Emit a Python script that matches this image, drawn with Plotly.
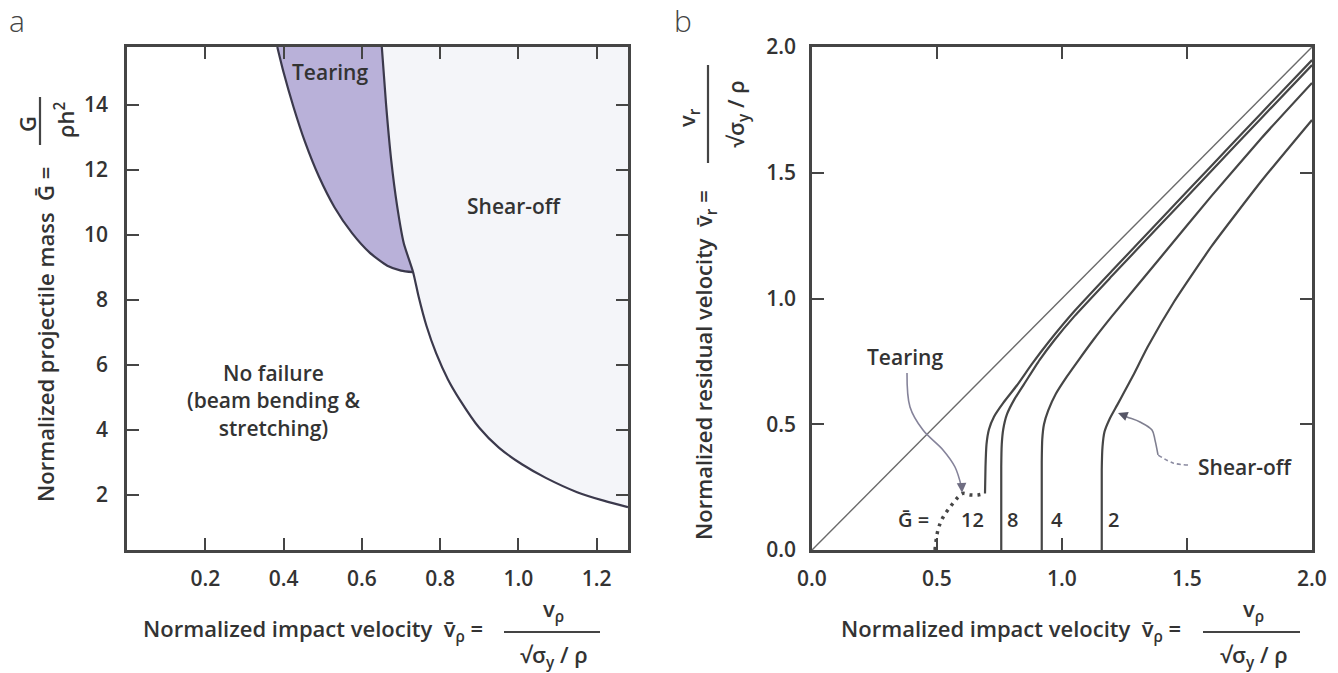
import plotly.graph_objects as go

W, H = 1338, 673

# ---------------- Panel a data (normalized impact velocity vs projectile mass) -------------
A_XMAX = 1.28
A_YMIN, A_YMAX = 0.3, 15.78
a_xticks = [0.2, 0.4, 0.6, 0.8, 1.0, 1.2]
a_xticklabels = ["0.2", "0.4", "0.6", "0.8", "1.0", "1.2"]
a_yticks = [2, 4, 6, 8, 10, 12, 14]

tear_left_v = [0.384, 0.400, 0.425, 0.455, 0.490, 0.530, 0.575, 0.620, 0.665, 0.700, 0.731]
tear_left_G = [15.78, 15.0, 13.95, 12.85, 11.8, 10.85, 10.05, 9.45, 9.05, 8.9, 8.85]

shear_v = [0.651, 0.662, 0.675, 0.690, 0.707, 0.731, 0.745, 0.765, 0.790, 0.820, 0.850,
           0.900, 0.950, 1.010, 1.070, 1.150, 1.220, 1.280]
shear_G = [15.78, 14.0, 12.3, 10.9, 9.75, 8.85, 8.1, 7.2, 6.35, 5.55, 4.93,
           4.06, 3.45, 2.93, 2.52, 2.08, 1.81, 1.62]
JUNCTION = 5  # index where the tearing boundary meets the shear-off boundary

# ---------------- Panel b data (impact velocity vs residual velocity) -------------
b_ticks = [0.0, 0.5, 1.0, 1.5, 2.0]
b_ticklabels = ["0.0", "0.5", "1.0", "1.5", "2.0"]

diag_v = [0.0, 2.0]
diag_r = [0.0, 2.0]

g12_tear_v = [0.492, 0.504, 0.524, 0.552, 0.584, 0.604, 0.632, 0.664, 0.692]
g12_tear_r = [0.0, 0.08, 0.13, 0.17, 0.21, 0.225, 0.219, 0.219, 0.225]

g12_v = [0.692, 0.694, 0.698, 0.708, 0.728, 0.765, 0.820, 0.880, 0.945, 1.05, 1.20, 1.40, 1.60, 1.80, 2.00]
g12_r = [0.225, 0.33, 0.42, 0.48, 0.53, 0.585, 0.655, 0.74, 0.825, 0.95, 1.11, 1.32, 1.53, 1.74, 1.948]

g8_v = [0.757, 0.757, 0.759, 0.765, 0.780, 0.810, 0.855, 0.910, 0.970, 1.05, 1.20, 1.40, 1.60, 1.80, 2.00]
g8_r = [0.0, 0.33, 0.42, 0.48, 0.54, 0.60, 0.67, 0.755, 0.835, 0.93, 1.09, 1.30, 1.51, 1.72, 1.928]

g4_v = [0.919, 0.919, 0.921, 0.928, 0.945, 0.975, 1.020, 1.070, 1.125, 1.20, 1.40, 1.60, 1.80, 2.00]
g4_r = [0.0, 0.35, 0.44, 0.50, 0.555, 0.62, 0.69, 0.76, 0.835, 0.93, 1.17, 1.41, 1.64, 1.857]

g2_v = [1.159, 1.159, 1.162, 1.170, 1.190, 1.220, 1.250, 1.285, 1.344, 1.45, 1.60, 1.80, 2.00]
g2_r = [0.0, 0.32, 0.41, 0.47, 0.52, 0.575, 0.63, 0.695, 0.81, 0.99, 1.21, 1.47, 1.71]

g_labels = ["12", "8", "4", "2"]
g_label_v = [0.64, 0.80, 0.98, 1.205]
g_label_r = 0.12

# annotation leader paths
tear_arrow_v = [0.380, 0.392, 0.444, 0.524, 0.572, 0.598]
tear_arrow_r = [0.704, 0.569, 0.477, 0.398, 0.330, 0.25]
shear_arrow_v = [1.504, 1.444, 1.384, 1.372, 1.360, 1.312, 1.260, 1.235]
shear_arrow_r = [0.338, 0.346, 0.378, 0.437, 0.477, 0.509, 0.529, 0.540]

# ---------------- styles -------------
FONT = "Open Sans"
TXT = "#333333"
LINE_A = "#3b394c"
LINE_B = "#464646"
AXC = "#454545"


def px(x):
    return x / W


def py(y):
    return 1 - y / H


fig = go.Figure()

# shear-off region (very light)
fig.add_trace(go.Scatter(
    x=shear_v + [A_XMAX, shear_v[0]], y=shear_G + [A_YMAX, A_YMAX],
    fill="toself", fillcolor="#f4f5f9", line=dict(width=0, shape="spline", smoothing=0.6),
    mode="lines", hoverinfo="skip", xaxis="x", yaxis="y"))
# tearing region
fig.add_trace(go.Scatter(
    x=tear_left_v + shear_v[JUNCTION::-1], y=tear_left_G + shear_G[JUNCTION::-1],
    fill="toself", fillcolor="#b9b1d9", line=dict(width=0, shape="spline", smoothing=0.6),
    mode="lines", hoverinfo="skip", xaxis="x", yaxis="y"))
fig.add_trace(go.Scatter(x=tear_left_v, y=tear_left_G, mode="lines",
                         line=dict(color=LINE_A, width=2.2, shape="spline", smoothing=0.6),
                         xaxis="x", yaxis="y"))
fig.add_trace(go.Scatter(x=shear_v, y=shear_G, mode="lines",
                         line=dict(color=LINE_A, width=2.2, shape="spline", smoothing=0.6),
                         xaxis="x", yaxis="y"))

# panel b
fig.add_trace(go.Scatter(x=diag_v, y=diag_r, mode="lines",
                         line=dict(color="#6a6a6a", width=1.4), xaxis="x2", yaxis="y2"))
fig.add_trace(go.Scatter(x=g12_tear_v, y=g12_tear_r, mode="lines",
                         line=dict(color=LINE_B, width=3.5, dash="3px,5px", shape="spline"),
                         xaxis="x2", yaxis="y2"))
for vv, rr in [(g12_v, g12_r), (g8_v, g8_r), (g4_v, g4_r), (g2_v, g2_r)]:
    fig.add_trace(go.Scatter(x=vv, y=rr, mode="lines",
                             line=dict(color=LINE_B, width=2.2, shape="spline", smoothing=0.5),
                             xaxis="x2", yaxis="y2"))
fig.add_trace(go.Scatter(x=tear_arrow_v, y=tear_arrow_r, mode="lines",
                         line=dict(color="#85839a", width=1.6, shape="spline"),
                         xaxis="x2", yaxis="y2"))
fig.add_trace(go.Scatter(x=shear_arrow_v[:3], y=shear_arrow_r[:3], mode="lines",
                         line=dict(color="#8a8aa0", width=1.6, dash="4px,3px", shape="spline"),
                         xaxis="x2", yaxis="y2"))
fig.add_trace(go.Scatter(x=shear_arrow_v[2:], y=shear_arrow_r[2:], mode="lines",
                         line=dict(color="#7f7f90", width=1.6, shape="spline"),
                         xaxis="x2", yaxis="y2"))

tickfont = dict(family=FONT, size=21, color=TXT, weight=600)
axis_common = dict(showline=True, linecolor=AXC, linewidth=2.5, mirror="ticks",
                   ticks="inside", ticklen=12, tickwidth=2, tickcolor=AXC,
                   showgrid=False, zeroline=False, tickfont=tickfont, automargin=False)

ydom = [py(550), py(47)]
fig.update_layout(
    width=W, height=H, margin=dict(l=0, r=0, t=0, b=0, pad=0), autosize=False,
    paper_bgcolor="white", plot_bgcolor="white", showlegend=False,
    xaxis=dict(domain=[px(127), px(628)], range=[0, A_XMAX], tickvals=a_xticks,
               ticktext=a_xticklabels, anchor="y", ticklabelstandoff=8, **axis_common),
    yaxis=dict(domain=ydom, range=[A_YMIN, A_YMAX], tickvals=a_yticks, anchor="x",
               ticklabelstandoff=12, **axis_common),
    xaxis2=dict(domain=[px(812), px(1312)], range=[0, 2], tickvals=b_ticks,
                ticktext=b_ticklabels, anchor="y2", ticklabelstandoff=8, **axis_common),
    yaxis2=dict(domain=ydom, range=[0, 2], tickvals=b_ticks, ticktext=b_ticklabels,
                anchor="x2", ticklabelstandoff=9, **axis_common),
)

ann = []


def t(text, x, y, size=21, xref="paper", yref="paper", angle=0, xanchor="center",
      weight=600, color=TXT):
    ann.append(dict(text=text, x=x, y=y, xref=xref, yref=yref, showarrow=False,
                    textangle=angle, xanchor=xanchor, yanchor="middle",
                    font=dict(family=FONT, size=size, color=color, weight=weight)))


# panel letters
t("a", px(17), py(20), size=30, weight=300, color="#444")
t("b", px(683), py(20), size=30, weight=300, color="#444")

# panel a region labels
t("Tearing", 0.519, 15.0, xref="x", yref="y")
t("Shear-off", 0.991, 10.9, xref="x", yref="y")
t("No failure<br>(beam bending &<br>stretching)", 0.374, 4.9, xref="x", yref="y")

# panel b labels
t("Tearing", 0.372, 0.767, xref="x2", yref="y2")
t("Shear-off", 1.732, 0.33, xref="x2", yref="y2")
t("G\u0304 =", 0.404, g_label_r, xref="x2", yref="y2", size=20)
for lab, xv in zip(g_labels, g_label_v):
    t(lab, xv, g_label_r, xref="x2", yref="y2", size=20)

# x axis titles with fractions
TS = 22
for right, cx in [(485, 552), (1183, 1252)]:
    t("Normalized impact velocity  v\u0304<sub>\u03c1</sub> =", px(right), py(630), size=TS,
      xanchor="right")
    t("v<sub>\u03c1</sub>", px(cx + 1), py(610), size=TS)
    t("\u221a\u03c3<sub>y</sub> / \u03c1", px(cx + 2), py(656), size=TS)

# y axis titles with fractions (rotated)
t("Normalized projectile mass  \u1e20 =", px(45), py(335), size=TS, angle=-90)
t("G", px(27), py(124), size=TS, angle=-90)
t("\u03c1h<sup>2</sup>", px(64), py(120), size=TS, angle=-90)
t("Normalized residual velocity  v\u0304<sub>r</sub> =", px(705), py(365), size=TS, angle=-90)
t("v<sub>r</sub>", px(688), py(118), size=TS, angle=-90)
t("\u221a\u03c3<sub>y</sub> / \u03c1", px(737), py(114), size=TS, angle=-90)

# arrowheads
ann.append(dict(x=0.600, y=0.228, ax=0.598, ay=0.27, xref="x2", yref="y2", axref="x2",
                ayref="y2", text="", showarrow=True, arrowhead=2, arrowsize=1.2,
                arrowwidth=1.6, arrowcolor="#6f6d82"))
ann.append(dict(x=1.224, y=0.545, ax=1.245, ay=0.537, xref="x2", yref="y2", axref="x2",
                ayref="y2", text="", showarrow=True, arrowhead=2, arrowsize=1.2,
                arrowwidth=1.6, arrowcolor="#555566"))

shapes = [
    dict(type="line", xref="paper", yref="paper", x0=px(504), x1=px(600), y0=py(632), y1=py(632),
         line=dict(color="#444", width=2.2)),
    dict(type="line", xref="paper", yref="paper", x0=px(1203), x1=px(1300), y0=py(632), y1=py(632),
         line=dict(color="#444", width=2.2)),
    dict(type="line", xref="paper", yref="paper", x0=px(40), x1=px(40), y0=py(97), y1=py(145),
         line=dict(color="#444", width=2.2)),
    dict(type="line", xref="paper", yref="paper", x0=px(708), x1=px(708), y0=py(65), y1=py(163),
         line=dict(color="#444", width=2.2)),
]

fig.update_layout(annotations=ann, shapes=shapes)

fig.write_html("out.html", config={"displayModeBar": False},
               post_script="document.body.style.margin='0';")
